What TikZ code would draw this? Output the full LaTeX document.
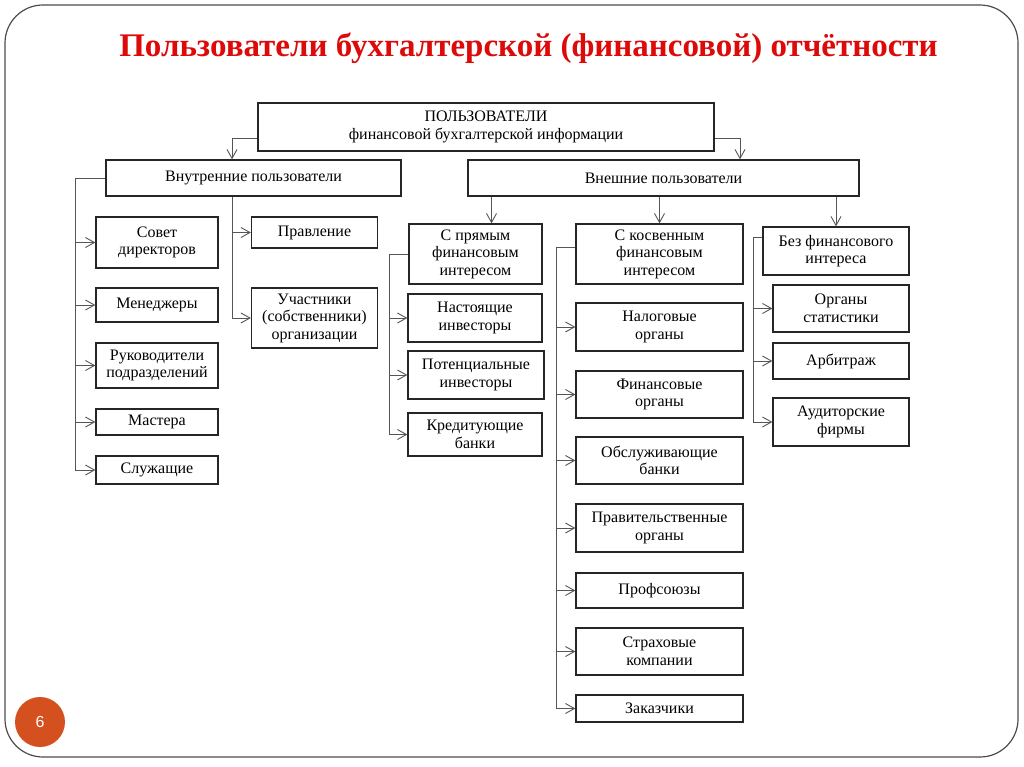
\documentclass[tikz,border=0pt]{standalone}
\usepackage{fontspec}
\setmainfont{Liberation Serif}
\newfontfamily\badgefont{Liberation Sans}
\usetikzlibrary{arrows.meta}
\definecolor{titlered}{HTML}{DD0A0A}
\definecolor{badgefill}{HTML}{D4501E}
\definecolor{linegray}{HTML}{555555}

\begin{document}
\begin{tikzpicture}[
    x=1pt, y=-1pt,
    box/.style={rectangle, draw=black!85, line width=1.3pt, align=center, inner sep=1pt,
        font=\fontsize{16}{17.5}\selectfont},
    link/.style={draw=linegray, line width=0.9pt},
    arrow/.style={link, -{Straight Barb[length=9pt,width=10pt]}}
]
\useasboundingbox (0,0) rectangle (1024,767);

% Slide frame and title
\draw[black!70, line width=1.2pt, rounded corners=38pt] (5,5) rectangle (1018,757);
\node[text=titlered, font=\bfseries\fontsize{33}{38}\selectfont] (title) at (528.5,48)
    {Пользователи бухгалтерской (финансовой) отчётности};

% Top level
\node[box, minimum width=456pt, minimum height=48pt] (users) at (486,127)
    {ПОЛЬЗОВАТЕЛИ\\финансовой бухгалтерской информации};
\node[box, minimum width=295pt, minimum height=36pt] (inner) at (253.5,178) {Внутренние пользователи};
\node[box, minimum width=391pt, minimum height=36pt] (outer) at (663.5,178) {Внешние пользователи};

% Internal users
\node[box, minimum width=122pt, minimum height=51pt] (board) at (157,242.5) {Совет\\директоров};
\node[box, minimum width=122pt, minimum height=34pt] (managers) at (157,305) {Менеджеры};
\node[box, minimum width=122pt, minimum height=45pt] (heads) at (157,365.5) {Руководители\\подразделений};
\node[box, minimum width=122pt, minimum height=26pt] (masters) at (157,422) {Мастера};
\node[box, minimum width=122pt, minimum height=28pt] (clerks) at (157,470) {Служащие};
\node[box, minimum width=126pt, minimum height=31pt] (direction) at (314.5,232.5) {Правление};
\node[box, minimum width=126pt, minimum height=60pt] (owners) at (314.5,318)
    {Участники\\(собственники)\\организации};

% External users: direct interest
\node[box, minimum width=133pt, minimum height=60pt] (direct) at (475.5,254) {С прямым\\финансовым\\интересом};
\node[box, minimum width=134pt, minimum height=48pt] (investors) at (475,318) {Настоящие\\инвесторы};
\node[box, minimum width=136pt, minimum height=48pt] (potential) at (476,375) {Потенциальные\\инвесторы};
\node[box, minimum width=134pt, minimum height=43pt] (lenders) at (475,434.5) {Кредитующие\\банки};

% External users: indirect interest
\node[box, minimum width=167pt, minimum height=60pt] (indirect) at (659.5,254) {С косвенным\\финансовым\\интересом};
\node[box, minimum width=167pt, minimum height=48pt] (tax) at (659.5,327) {Налоговые\\органы};
\node[box, minimum width=167pt, minimum height=47pt] (finorg) at (659.5,394.5) {Финансовые\\органы};
\node[box, minimum width=167pt, minimum height=47pt] (banks) at (659.5,460.5) {Обслуживающие\\банки};
\node[box, minimum width=167pt, minimum height=48pt] (gov) at (659.5,528) {Правительственные\\органы};
\node[box, minimum width=167pt, minimum height=35pt] (unions) at (659.5,590.5) {Профсоюзы};
\node[box, minimum width=167pt, minimum height=47pt] (insurers) at (659.5,651.5) {Страховые\\компании};
\node[box, minimum width=167pt, minimum height=27pt] (clients) at (659.5,708.5) {Заказчики};

% External users: no financial interest
\node[box, minimum width=146pt, minimum height=48pt] (nointerest) at (836,251) {Без финансового\\интереса};
\node[box, minimum width=136pt, minimum height=47pt] (stats) at (841,308.5) {Органы\\статистики};
\node[box, minimum width=136pt, minimum height=36pt] (arbitr) at (841,361) {Арбитраж};
\node[box, minimum width=136pt, minimum height=48pt] (auditors) at (841,422) {Аудиторские\\фирмы};

% Trunk lines
\coordinate (ta) at (75,0);
\coordinate (tb) at (232,0);
\coordinate (tc) at (740,0);
\coordinate (td) at (389,0);
\coordinate (te) at (556,0);
\coordinate (tf) at (753,0);

% Arrows
\draw[arrow] ([yshift=-11pt]users.west) -| (tb |- inner.north);
\draw[arrow] ([yshift=-11pt]users.east) -| (tc |- outer.north);

\draw[link] (inner.west) -| (ta |- clerks.west);
\foreach \n in {board, managers, heads, masters, clerks}
    \draw[arrow] (ta |- \n.west) -- (\n.west);
\draw[link] (tb |- inner.south) -- (tb |- owners.west);
\foreach \n in {direction, owners}
    \draw[arrow] (tb |- \n.west) -- (\n.west);

\draw[arrow] ([xshift=16pt]direct.north |- outer.south) -- ([xshift=16pt]direct.north);
\draw[arrow] (indirect.north |- outer.south) -- (indirect.north);
\draw[arrow] (nointerest.north |- outer.south) -- (nointerest.north);

\draw[link] (direct.west) -| (td |- lenders.west);
\foreach \n in {investors, potential, lenders}
    \draw[arrow] (td |- \n.west) -- (\n.west);
\draw[link] ([yshift=7pt]indirect.west) -| (te |- clients.west);
\foreach \n in {tax, finorg, banks, gov, unions, insurers, clients}
    \draw[arrow] (te |- \n.west) -- (\n.west);
\draw[link] ([yshift=14pt]nointerest.west) -| (tf |- auditors.west);
\foreach \n in {stats, arbitr, auditors}
    \draw[arrow] (tf |- \n.west) -- (\n.west);

% Page number
\node[circle, fill=badgefill, minimum size=50pt, text=white, font=\badgefont\fontsize{16}{16}\selectfont]
    (page) at (40,722) {6};
\end{tikzpicture}
\end{document}
